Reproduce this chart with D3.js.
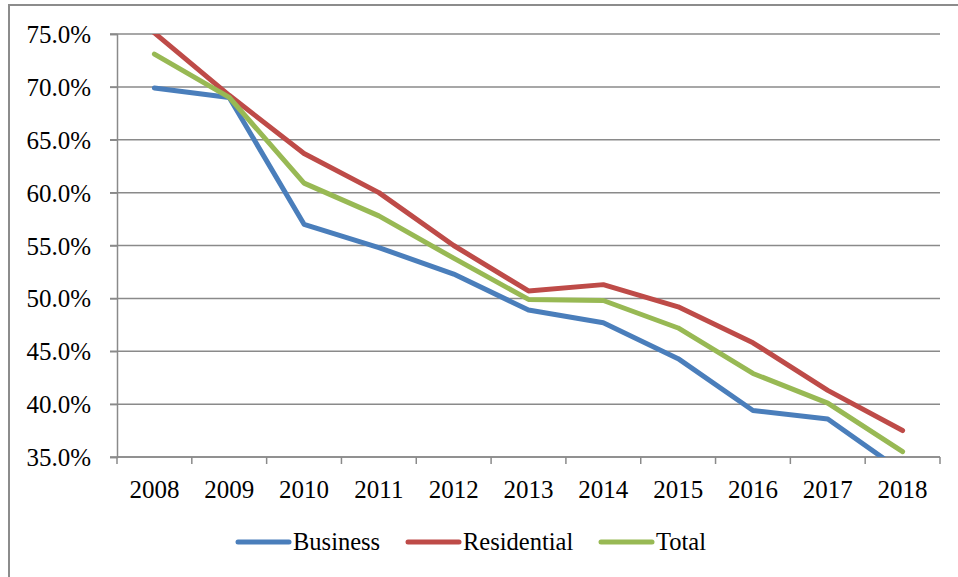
<!DOCTYPE html>
<meta charset="utf-8">
<script src="https://d3js.org/d3.v7.min.js"></script>
<body style="margin:0;background:#fff">
<div id="my_dataviz"></div>
<script>

// data (percent)
var years = ["2008", "2009", "2010", "2011", "2012", "2013", "2014", "2015", "2016", "2017", "2018"];
var business    = [69.9, 69.0, 57.0, 54.8, 52.3, 48.9, 47.7, 44.3, 39.4, 38.6, 33.6];
var residential = [75.1, 69.2, 63.7, 60.0, 55.0, 50.7, 51.3, 49.2, 45.8, 41.3, 37.5];
var total       = [73.1, 69.0, 60.9, 57.8, 53.8, 49.9, 49.8, 47.2, 42.9, 40.1, 35.5];
var yTicks = [35, 40, 45, 50, 55, 60, 65, 70, 75];

var seriesNames = ["Business", "Residential", "Total"];
var seriesColors = ["#4a7ebb", "#be4b48", "#98b954"];
var series = [business, residential, total];

var FONT = "Liberation Serif";

var W = 958, H = 577;
var margin = {top: 34, left: 117};
var width = 940 - margin.left,
    height = 457 - margin.top;

var svg = d3.select("#my_dataviz")
  .append("svg")
    .attr("width", W)
    .attr("height", H)
    .attr("font-family", FONT);

// outer chart border (top + left visible)
svg.append("path")
  .attr("d", "M9,578 L9,5 L958,5")
  .attr("fill", "none")
  .attr("stroke", "#8c8c8c")
  .attr("stroke-width", 2);

var g = svg.append("g")
  .attr("transform", "translate(" + margin.left + "," + margin.top + ")");

var x = d3.scaleBand()
  .domain(years)
  .range([0, width]);

var y = d3.scaleLinear()
  .domain([35, 75])
  .range([height, 0]);

// gridlines
g.append("g")
  .selectAll("line")
  .data(yTicks)
  .enter().append("line")
    .attr("x1", -7)
    .attr("x2", width)
    .attr("y1", function(d) { return y(d); })
    .attr("y2", function(d) { return y(d); })
    .attr("stroke", "#8a8a8a")
    .attr("stroke-width", 1.5);

// y axis
var yAxis = g.append("g")
  .call(d3.axisLeft(y).tickValues(yTicks).tickSize(7)
    .tickFormat(function(d) { return d.toFixed(1) + "%"; }));
yAxis.attr("font-family", FONT);
yAxis.select(".domain").attr("stroke", "#8a8a8a").attr("stroke-width", 1.5);
yAxis.selectAll(".tick line").attr("stroke", "#8a8a8a").attr("stroke-width", 1.5);
yAxis.selectAll(".tick text")
  .attr("x", -26)
  .attr("dy", "0.34em")
  .attr("font-family", FONT)
  .attr("font-size", 25)
  .attr("fill", "#000");

// x axis: ticks at category boundaries
var xAxis = g.append("g")
  .attr("transform", "translate(0," + height + ")");
xAxis.append("line")
  .attr("x1", 0).attr("x2", width)
  .attr("stroke", "#8a8a8a").attr("stroke-width", 1.5);
xAxis.selectAll(".bt")
  .data(years.concat(["end"]))
  .enter().append("line")
    .attr("x1", function(d, i) { return i * x.step(); })
    .attr("x2", function(d, i) { return i * x.step(); })
    .attr("y1", 0).attr("y2", 7)
    .attr("stroke", "#8a8a8a").attr("stroke-width", 1.5);
xAxis.selectAll("text")
  .data(years)
  .enter().append("text")
    .attr("x", function(d) { return x(d) + x.bandwidth() / 2; })
    .attr("y", 41)
    .attr("text-anchor", "middle")
    .attr("font-family", FONT)
    .attr("font-size", 25)
    .text(function(d) { return d; });

// clip lines to the plot area
svg.append("clipPath").attr("id", "plotclip")
  .append("rect")
    .attr("x", 0).attr("y", 0)
    .attr("width", width).attr("height", height);

var line = d3.line()
  .x(function(d, i) { return x(years[i]) + x.bandwidth() / 2; })
  .y(function(d) { return y(d); });

g.append("g")
  .attr("clip-path", "url(#plotclip)")
  .selectAll("path")
  .data(series)
  .enter().append("path")
    .attr("d", line)
    .attr("fill", "none")
    .attr("stroke", function(d, i) { return seriesColors[i]; })
    .attr("stroke-width", 5)
    .attr("stroke-linejoin", "round")
    .attr("stroke-linecap", "round");

// legend
var legendX = [238, 408, 601];
var legend = svg.append("g");
legend.selectAll("line")
  .data(seriesNames)
  .enter().append("line")
    .attr("x1", function(d, i) { return legendX[i]; })
    .attr("x2", function(d, i) { return legendX[i] + 51; })
    .attr("y1", 542).attr("y2", 542)
    .attr("stroke", function(d, i) { return seriesColors[i]; })
    .attr("stroke-width", 5)
    .attr("stroke-linecap", "round");
legend.selectAll("text")
  .data(seriesNames)
  .enter().append("text")
    .attr("x", function(d, i) { return legendX[i] + 55; })
    .attr("y", 550)
    .attr("font-family", FONT)
    .attr("font-size", 24.5)
    .text(function(d) { return d; });

</script>
